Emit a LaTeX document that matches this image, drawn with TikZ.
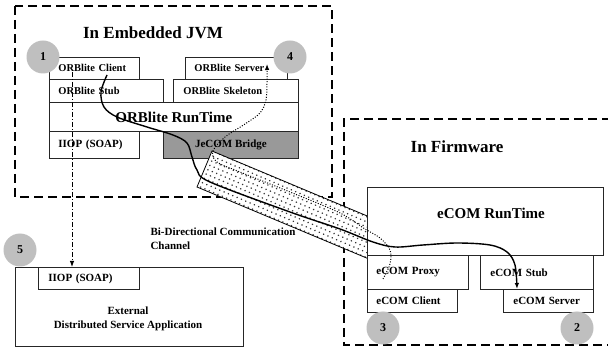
\documentclass[tikz,border=0pt]{standalone}
\usepackage{fontspec}
\setmainfont{Liberation Serif}
\usetikzlibrary{arrows.meta,patterns.meta}

\tikzset{
  region/.style={draw=black, line width=2.6pt, dash pattern=on 9pt off 5pt},
  box/.style={draw=black!85, fill=white, line width=0.8pt, inner sep=0pt, anchor=north west},
  tbox/.style 2 args={box, inner xsep=#2, text width=#1, align=left},
  small/.style={font=\fontsize{10.5}{12}\selectfont\bfseries},
  mid/.style={font=\fontsize{11}{14}\selectfont\bfseries},
  big/.style={font=\fontsize{15}{18}\selectfont\bfseries},
  title/.style={font=\fontsize{17}{20}\selectfont\bfseries},
  badge/.style={circle, fill=black!25, minimum size=33pt, inner sep=0pt,
                font=\fontsize{12}{14}\selectfont\bfseries},
  flow/.style={line width=1.4pt, -{Latex[length=6pt,width=4.5pt]}},
  backflow/.style={line width=1pt, dash pattern=on 1pt off 1.6pt, -{Latex[length=6pt,width=4.5pt]}},
  extflow/.style={line width=0.9pt, dash pattern=on 5pt off 2pt on 1pt off 2pt, -{Latex[length=6pt,width=4.5pt]}},
  channel/.style={draw=black, line width=0.8pt, preaction={fill=white},
                  pattern={Dots[distance=4.7pt, radius=0.85pt, angle=-23]}, pattern color=black!80}
}

\begin{document}
\begin{tikzpicture}[x=1pt, y=-1pt]
\useasboundingbox (0,0) rectangle (608,347);

\begin{scope}
  \clip (0,0) rectangle (608,347);
  % execution environments
  \draw[region] (15,6) rectangle (332,197);
  \draw[region] (625,119) -- (344,119) -- (344,345) -- (625,345);
\end{scope}

% ORBlite stack inside the embedded JVM
\node[tbox={72pt}{9pt},  minimum height=22pt, small] (client) at (49,57)  {ORBlite Client};
\node[tbox={84pt}{9pt},  minimum height=22pt, small] (server) at (185,57) {ORBlite Server};
\node[tbox={96pt}{9pt},  minimum height=23pt, small] (stub)   at (49,79)  {ORBlite Stub};
\node[tbox={105pt}{10pt},minimum height=23pt, small] (skel)   at (173,79) {ORBlite Skeleton};
\node[box, minimum width=249pt, minimum height=29pt, big] (runtime) at (49,102) {ORBlite RunTime};
\node[tbox={72pt}{9pt},  minimum height=27pt, mid] (iiop) at (49,131) {IIOP (SOAP)};
\node[box, fill=black!40, minimum width=135pt, minimum height=27pt, mid] (bridge) at (163,131) {JeCOM Bridge};

% external application
\node[box, minimum width=228pt, minimum height=79pt] (ext) at (15,267) {};
\node[tbox={81pt}{10pt}, minimum height=22pt, mid] (eiiop) at (38,267) {IIOP (SOAP)};
\node[mid, align=center] (extlabel) at (128,319) {External\\Distributed Service Application};

% communication channel between the JVM and the firmware
\path[channel] (212,151) -- (396.4,228.2) -- (381.4,264.2) -- (197,187) -- cycle;

% eCOM stack inside the firmware
\node[box, minimum width=236pt, minimum height=68pt] (ertime) at (367,187) {};
\node[big] (ertimelabel) at (491,213) {eCOM RunTime};
\node[tbox={83pt}{9pt},  minimum height=34pt, mid] (proxy)   at (367,255) {eCOM Proxy};
\node[tbox={93pt}{10pt}, minimum height=34pt, mid] (estub)   at (480,255) {eCOM Stub};
\node[tbox={72pt}{9pt},  minimum height=23pt, mid] (eclient) at (367,289) {eCOM Client};
\node[tbox={70pt}{10pt}, minimum height=23pt, mid] (eserver) at (503,289) {eCOM Server};

% numbered steps
\node[badge] (n1) at (43,57)  {1};
\node[badge] (n4) at (290,57) {4};
\node[badge] (n3) at (383,328) {3};
\node[badge] (n2) at (577,328) {2};
\node[badge] (n5) at (20,250) {5};

% titles
\node[title] (jvmtitle) at (153,33) {In Embedded JVM};
\node[title] (fwtitle)  at (457,147) {In Firmware};
\node[mid, align=left, anchor=west] (chanlabel) at (147,239) {Bi-Directional Communication\\Channel};

% call paths
\coordinate (ddStart) at (72,72);
\draw[extflow] (ddStart) -- (ddStart |- eiiop.north);

\coordinate (solidStart) at (107,75);
\coordinate (solidEnd) at ([xshift=14pt]eserver.north west);
\draw[flow] plot[smooth, tension=0.55] coordinates {
  (solidStart) (101,92) (104,107) (117,117) (147,127) (173,135) (187,143)
  (192,157) (197,170) (210,182) (290,212) (340,229) (373,242) (395,247)
  (423,245) (457,243) (490,245) (507,252) (515,265) (solidEnd)};

\coordinate (dotStart) at (383,279);
\coordinate (dotEnd) at (267,64);
\draw[backflow] plot[smooth, tension=0.55] coordinates {
  (dotStart) (390,264) (390,250) (380,238) (365,229) (340,213) (290,192)
  (240,172) (217,162) (213,151) (225,137) (245,124) (260,113) (266,100)
  (267,83) (dotEnd)};

\end{tikzpicture}
\end{document}
